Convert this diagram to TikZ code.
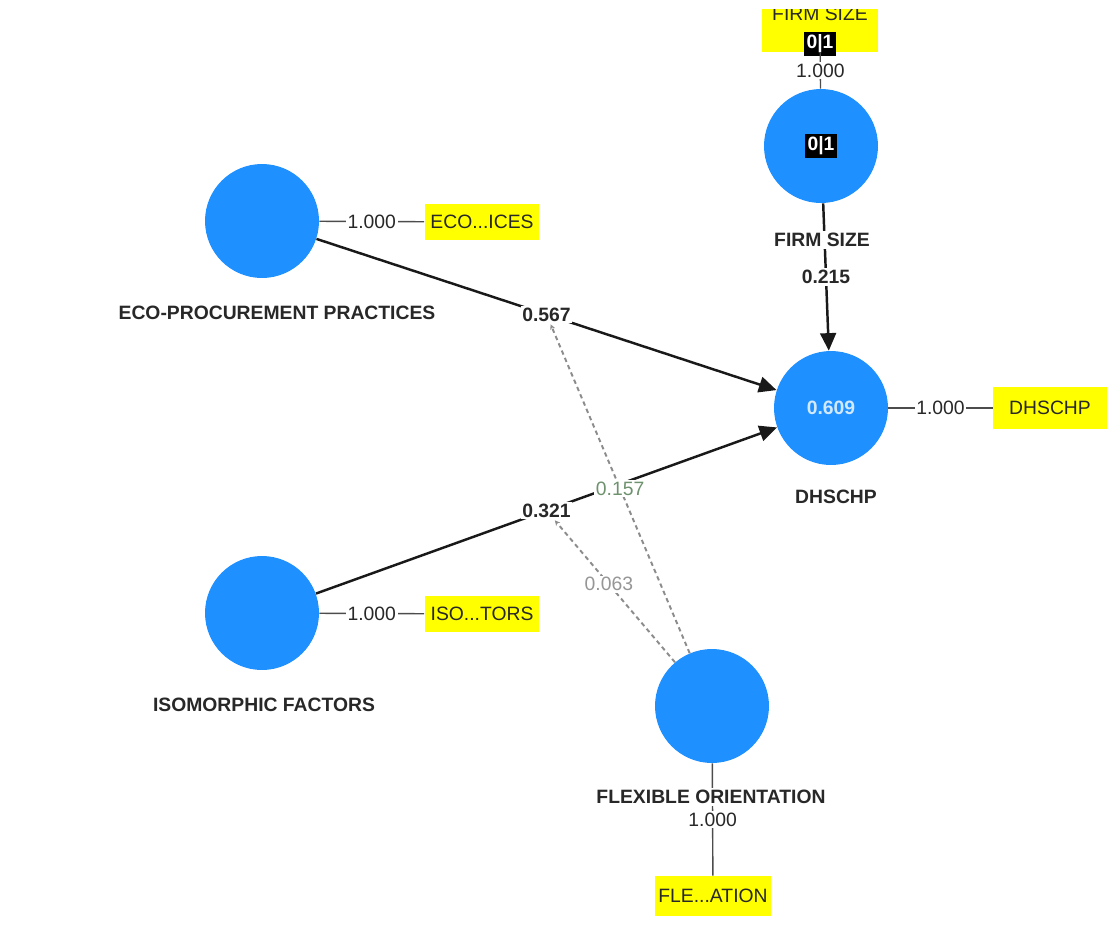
\documentclass[tikz,border=0pt]{standalone}
\usepackage{fontspec}
\setmainfont{Liberation Sans}
\usetikzlibrary{positioning,arrows.meta}
\definecolor{lvblue}{RGB}{30,144,255}
\definecolor{indyellow}{RGB}{255,255,0}
\definecolor{txtgray}{RGB}{40,40,40}
\definecolor{modgreen}{RGB}{110,145,110}
\definecolor{modgray}{RGB}{150,150,150}

\begin{document}
\begin{tikzpicture}[x=0.02cm,y=-0.02cm,font=\fontsize{11}{13}\selectfont]
	% styles of the model
	\tikzstyle{latent} = [circle, fill=lvblue, minimum size=2.28cm, inner sep=0pt]	% constructs
	\tikzstyle{indbox} = [rectangle, fill=indyellow, minimum width=2.3cm, minimum height=0.72cm, inner sep=2pt, text=txtgray]	% indicators
	\tikzstyle{lvname} = [font=\fontsize{11}{13}\selectfont\bfseries, text=txtgray, fill=white, inner sep=1pt]
	\tikzstyle{loading} = [fill=white, inner sep=1pt, text=txtgray]
	\tikzstyle{coef} = [fill=white, inner sep=1pt, font=\fontsize{11}{13}\selectfont\bfseries, text=txtgray]
	\tikzstyle{bin} = [fill=black, text=white, font=\fontsize{11}{13}\selectfont\bfseries, inner sep=1.5pt]
	\tikzstyle{effect} = [line width=1.4pt, draw=black!90, -{Triangle[length=10pt,width=9pt]}]
	\tikzstyle{loadline} = [line width=0.8pt, draw=black!70]
	\tikzstyle{moder} = [line width=1.1pt, draw=black!45, dash pattern=on 2.5pt off 2pt, -{Stealth[open,length=3pt,width=3pt]}]
	\useasboundingbox (0,0) rectangle (1113,937);
	\clip (0,9) rectangle (1113,937);

	% constructs
	\node (eco) [latent] at (262,221) {};
	\node (iso) [latent] at (262,613) {};
	\node (flex) [latent] at (712,706) {};
	\node (dh) [latent] at (831,408) {\color{white!80!lvblue}\bfseries 0.609};
	\node (firm) [latent] at (821,146) {};
	\node (firmbin) [bin] at (firm.center) {0|1};

	% indicators
	\node (ecoind) [indbox] at (482,222) {ECO...ICES};
	\node (isoind) [indbox] at (482,614) {ISO...TORS};
	\node (dhind) [indbox, minimum width=2.28cm, minimum height=0.84cm] at (1050,408) {DHSCHP};
	\node (flexind) [indbox, minimum width=2.26cm, minimum height=0.8cm] at (713,896) {FLE...ATION};
	\node (fsind) [indbox, minimum width=2.32cm, minimum height=0.96cm] at (820,28) {};
	\node (fsindtxt) [text=txtgray, inner sep=0pt] at (820,14) {FIRM SIZE};
	\node (fsbin) [bin] at (820,44) {0|1};

	% structural paths
	\draw [effect] (eco) -- node[coef] (p1) {0.567} (dh);
	\draw [effect] (iso) -- node[coef] (p2) {0.321} (dh);
	\draw [effect] (firm) -- node[coef] (p3) {0.215} (dh);

	% moderating effects
	\draw [moder] (flex) -- node[fill=white, inner sep=1pt, text=modgreen] (m1) {0.157} (p1);
	\draw [moder] (flex) -- node[fill=white, inner sep=1pt, text=modgray, pos=0.55] (m2) {0.063} (p2);

	% outer loadings
	\draw [loadline] (eco) -- node[loading] (l1) {1.000} (ecoind);
	\draw [loadline] (iso) -- node[loading] (l2) {1.000} (isoind);
	\draw [loadline] (dh) -- node[loading] (l3) {1.000} (dhind);
	\draw [loadline] (flex) -- node[loading] (l4) {1.000} (flexind);
	\draw [loadline] (fsind) -- node[loading] (l5) {1.000} (firm);

	% construct names
	\node (ecolbl) [lvname] at (277,313) {ECO-PROCUREMENT PRACTICES};
	\node (isolbl) [lvname] at (264,705) {ISOMORPHIC FACTORS};
	\node (flexlbl) [lvname] at (711,797) {FLEXIBLE ORIENTATION};
	\node (dhlbl) [lvname] at (836,497) {DHSCHP};
	\node (firmlbl) [lvname] at (822,240) {FIRM SIZE};
\end{tikzpicture}
\end{document}
